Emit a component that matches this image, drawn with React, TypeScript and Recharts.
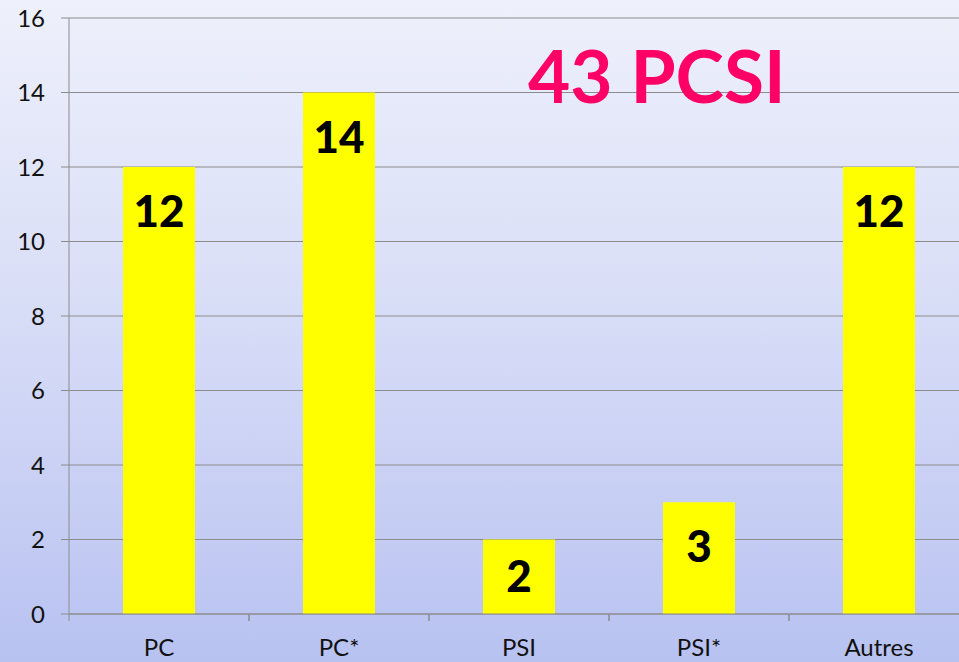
import React from 'react';
import { BarChart, Bar, XAxis, YAxis, CartesianGrid, LabelList } from 'recharts';

const categories = ['PC', 'PC*', 'PSI', 'PSI*', 'Autres'];
const counts = [12, 14, 2, 3, 12];
const yTicks = [0, 2, 4, 6, 8, 10, 12, 14, 16];
const title = '43 PCSI';

const data = categories.map((c, i) => ({ name: c, value: counts[i] }));

const FONT = 'Lato, "Open Sans", sans-serif';
const AXIS = '#8c8c8c';

const ValueLabel = (props: any) => {
  const { x, y, width, height, value } = props;
  const off = Math.min(43, height / 2 - 2);
  return (
    <text
      x={x + width / 2}
      y={y + off}
      textAnchor="middle"
      dominantBaseline="central"
      fontFamily={FONT}
      fontWeight={900}
      fontSize={44}
      fill="#000"
    >
      {value}
    </text>
  );
};

const CategoryTick = (props: any) => {
  const { x, y, payload } = props;
  const half = payload && payload.offset ? payload.offset : 90;
  return (
    <g>
      <line x1={x - half} y1={y} x2={x - half} y2={y + 7} stroke={AXIS} strokeWidth={1} />
      <line x1={x + half} y1={y} x2={x + half} y2={y + 7} stroke={AXIS} strokeWidth={1} />
      <text
        x={x}
        y={y + 32}
        textAnchor="middle"
        dominantBaseline="central"
        fontFamily={FONT}
        fontSize={24}
        fill="#111"
      >
        {payload.value}
      </text>
    </g>
  );
};

export default function App() {
  return (
    <div
      style={{
        position: 'absolute',
        left: 0,
        top: 0,
        width: 959,
        height: 662,
        overflow: 'hidden',
        background: 'linear-gradient(to bottom, #eef0fb 0%, #d9def7 45%, #b8c2f1 100%)',
      }}
    >
      <BarChart
        width={969}
        height={662}
        data={data}
        margin={{ top: 18, right: 0, left: 0, bottom: 0 }}
        barCategoryGap={0}
      >
        <CartesianGrid vertical={false} stroke={AXIS} strokeWidth={1} />
        <XAxis
          dataKey="name"
          height={48}
          tickLine={false}
          tickSize={0}
          tickMargin={0}
          axisLine={{ stroke: AXIS }}
          interval={0}
          tick={CategoryTick}
        />
        <YAxis
          width={69}
          domain={[0, 16]}
          ticks={yTicks}
          interval={0}
          tickSize={8}
          tickMargin={16}
          tickLine={{ stroke: AXIS }}
          axisLine={{ stroke: AXIS }}
          tick={{ fill: '#111', fontSize: 24, fontFamily: FONT }}
        />
        <Bar dataKey="value" fill="#ffff00" barSize={72} isAnimationActive={false}>
          <LabelList dataKey="value" content={ValueLabel} />
        </Bar>
      </BarChart>
      <div
        style={{
          position: 'absolute',
          left: 528,
          top: 30,
          fontFamily: FONT,
          fontWeight: 700,
          fontSize: 73,
          lineHeight: '90px',
          color: '#ff0066',
          whiteSpace: 'nowrap',
        }}
      >
        {title}
      </div>
    </div>
  );
}
